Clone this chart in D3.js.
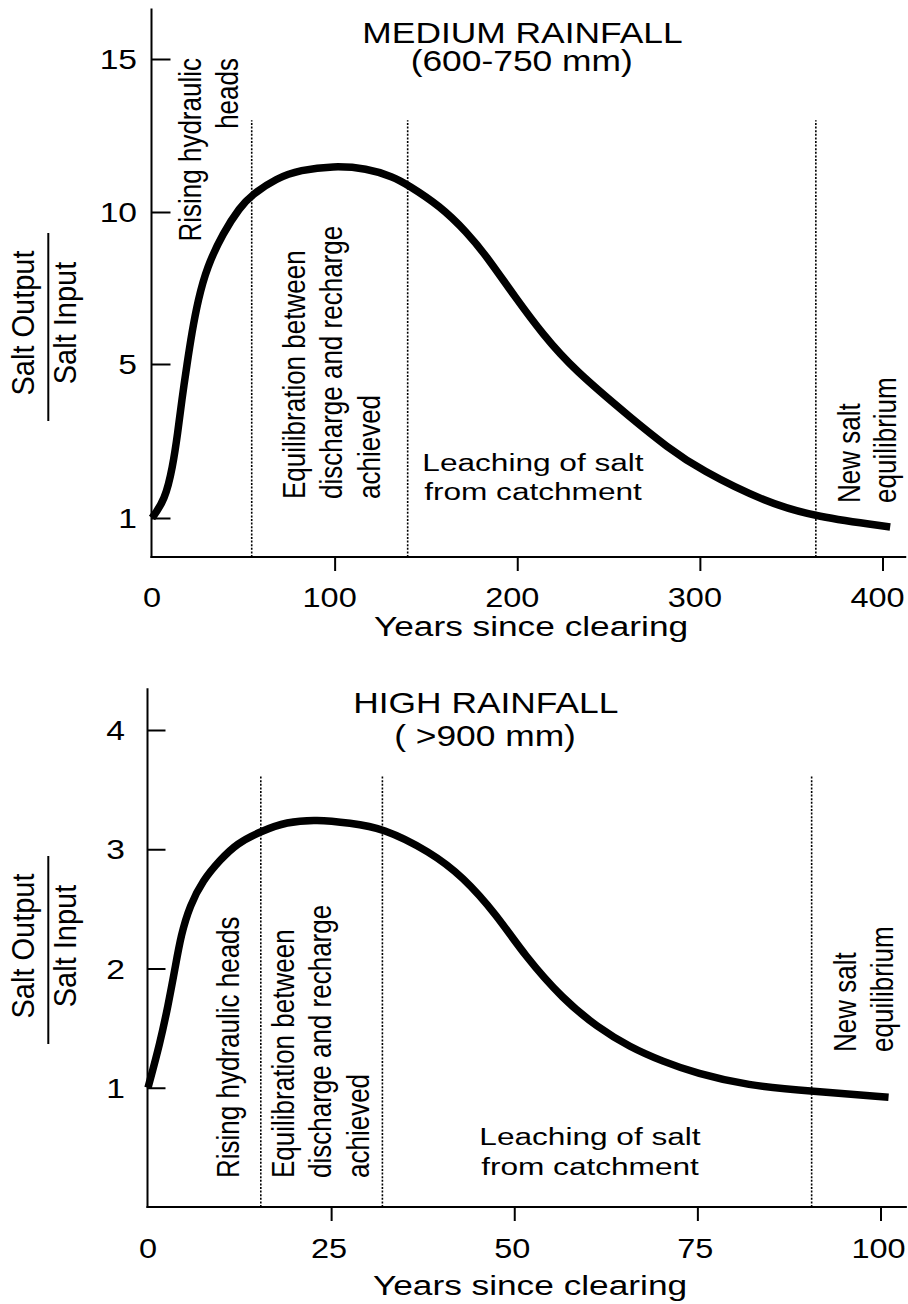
<!DOCTYPE html>
<html>
<head>
<meta charset="utf-8">
<script src="https://cdn.jsdelivr.net/npm/d3@7"></script>
<style>
  body { margin: 0; background: #fff; }
  svg { display: block; }
  text { font-family: "Liberation Sans", Arial, Helvetica, sans-serif; fill: #000; }
</style>
</head>
<body>
<svg id="chart" width="908" height="1304"></svg>
<script>
// ---------------- DATA ----------------
// Medium rainfall panel
const mediumYears = [0, 7.1, 11.3, 14.1, 16.3, 19.2, 21.8, 25.2, 30.0, 38.9, 48.2, 54.6, 68.3, 81.1, 99.2, 117.6, 132, 140, 157.7, 172.5, 183.3, 198.8, 214.3, 230.6, 263.5, 281.9, 300.2, 336.9, 363.7, 404.2];
const mediumRatio = [1.0, 1.47, 2.32, 3.21, 4.06, 5.0, 6.02, 7.1, 8.18, 9.31, 10.16, 10.56, 11.11, 11.37, 11.51, 11.43, 11.15, 10.89, 10.2, 9.33, 8.54, 7.2, 5.95, 4.87, 3.55, 2.85, 2.25, 1.39, 1.03, 0.77];
const mediumXTicks = [0, 100, 200, 300, 400];
const mediumYTicks = [1, 5, 10, 15];
const mediumPhaseBounds = [54.6, 140, 363.5];
const mediumTitle = ["MEDIUM RAINFALL", "(600-750 mm)"];

// High rainfall panel
const highYears = [0, 1.64, 2.73, 3.69, 4.5, 5.73, 7.5, 9.83, 12.15, 15.4, 18.9, 23.0, 27.6, 32.0, 38.5, 43.0, 47.6, 51.4, 56.7, 61.3, 65.8, 70.3, 74.9, 81.7, 90.6, 101.1];
const highRatio = [1.0, 1.375, 1.686, 2.0, 2.28, 2.53, 2.74, 2.91, 3.05, 3.15, 3.23, 3.25, 3.22, 3.18, 2.98, 2.77, 2.45, 2.11, 1.74, 1.51, 1.34, 1.22, 1.12, 1.02, 0.97, 0.92];
const highXTicks = [0, 25, 50, 75, 100];
const highYTicks = [1, 2, 3, 4];
const highPhaseBounds = [15.4, 32.0, 90.6];
const highTitle = ["HIGH RAINFALL", "( >900 mm)"];

const xAxisTitle = "Years since clearing";
const yAxisNumerator = "Salt Output";
const yAxisDenominator = "Salt Input";

const mediumPhaseLabels = {
  rising: ["Rising hydraulic", "heads"],
  equil: ["Equilibration between", "discharge and recharge", "achieved"],
  leach: ["Leaching of salt", "from catchment"],
  newEq: ["New salt", "equilibrium"]
};
const highPhaseLabels = {
  rising: ["Rising hydraulic heads"],
  equil: ["Equilibration between", "discharge and recharge", "achieved"],
  leach: ["Leaching of salt", "from catchment"],
  newEq: ["New salt", "equilibrium"]
};

// ---------------- DRAWING ----------------
const svg = d3.select("#chart");

function hText(g, str, x, y, size, sx, anchor) {
  g.append("text")
    .attr("transform", `translate(${x},${y}) scale(${sx},1)`)
    .attr("text-anchor", anchor)
    .style("font-size", size + "px")
    .text(str);
}
function vText(g, str, x, y, size, sx, anchor) {
  g.append("text")
    .attr("transform", `translate(${x},${y}) scale(${sx},1) rotate(-90)`)
    .attr("text-anchor", anchor)
    .style("font-size", size + "px")
    .text(str);
}

function panel(cfg) {
  const g = svg.append("g");
  const x = d3.scaleLinear().domain(cfg.xDomain).range(cfg.xRange);
  const y = d3.scaleLinear().domain(cfg.yDomain).range(cfg.yRange);
  const x0 = x(0) - 0.5;
  const base = y(0);

  // axis lines
  g.append("line").attr("x1", x0).attr("x2", x0).attr("y1", base + 1).attr("y2", y(cfg.yMax))
    .attr("stroke", "#000").attr("stroke-width", 2);
  g.append("line").attr("x1", x0 - 1).attr("x2", x(cfg.xMax)).attr("y1", base).attr("y2", base)
    .attr("stroke", "#000").attr("stroke-width", 2);

  // x ticks
  const xa = g.append("g").attr("transform", `translate(0,${base})`)
    .call(d3.axisBottom(x).tickValues(cfg.xTicks.filter(d => d !== 0)).tickSize(14).tickSizeOuter(0).tickFormat(""));
  xa.select(".domain").remove();
  xa.selectAll("line").attr("stroke-width", 2);
  // y ticks (inside)
  const ya = g.append("g").attr("transform", `translate(${x0},0)`)
    .call(d3.axisRight(y).tickValues(cfg.yTicks).tickSize(cfg.yTickLen).tickSizeOuter(0).tickFormat(""));
  ya.select(".domain").remove();
  ya.selectAll("line").attr("stroke-width", 2);

  // tick labels
  cfg.xTicks.forEach(v => hText(g, String(v), x(v) + (v === 0 ? 0 : cfg.xLabelShift), cfg.xLabelBase, 28, 1.16, "middle"));
  cfg.yTicks.forEach(v => hText(g, String(v), cfg.yLabelRight, y(v) + 10, 28, 1.2, "end"));

  // phase boundaries (dotted)
  g.selectAll(".phase").data(cfg.bounds).enter().append("line")
    .attr("x1", d => x(d)).attr("x2", d => x(d))
    .attr("y1", base).attr("y2", y(cfg.boundTop))
    .attr("stroke", "#000").attr("stroke-width", 1.6).attr("stroke-dasharray", "2,1.6");

  // curve
  const pts = cfg.years.map((d, i) => [d, cfg.ratio[i]]);
  const line = d3.line().x(d => x(d[0])).y(d => y(d[1])).curve(d3.curveBasis);
  g.append("path").attr("d", line(pts)).attr("fill", "none")
    .attr("stroke", "#000").attr("stroke-width", 7.5).attr("stroke-linecap", "butt")
    .attr("stroke-linejoin", "round");

  // titles
  hText(g, cfg.title[0], cfg.titleX[0], cfg.titleBase[0], 29, 1.22, "middle");
  hText(g, cfg.title[1], cfg.titleX[1], cfg.titleBase[1], 29, 1.22, "middle");

  // x axis title
  hText(g, xAxisTitle, cfg.xTitleX, cfg.xTitleBase, 28, 1.26, "middle");

  // y axis title as fraction
  vText(g, yAxisNumerator, 33.5, cfg.yTitleCenter, 29, 1.05, "middle");
  vText(g, yAxisDenominator, 76, cfg.yTitleCenter, 29, 1.05, "middle");
  g.append("line").attr("x1", 48.3).attr("x2", 48.3)
    .attr("y1", cfg.barRange[0]).attr("y2", cfg.barRange[1])
    .attr("stroke", "#000").attr("stroke-width", 2);

  // annotations
  cfg.annotations.forEach(a => {
    a.lines.forEach((s, i) => {
      if (a.rot) vText(g, s, a.bx[i], a.y, 26, 1.22, a.anchor);
      else hText(g, s, a.x, a.by[i], 24.5, 1.29, "middle");
    });
  });
}

panel({
  xDomain: [0, 400], xRange: [152, 882.5], xMax: 413,
  yDomain: [0, 1, 5, 10, 15], yRange: [557, 518, 364, 212, 59], yMax: 16.65,
  xTicks: mediumXTicks, yTicks: mediumYTicks, yTickLen: 19,
  xLabelBase: 607, xLabelShift: -5, yLabelRight: 137,
  bounds: mediumPhaseBounds, boundTop: 13.0,
  years: mediumYears, ratio: mediumRatio,
  title: mediumTitle, titleX: [522.5, 521.7], titleBase: [42.7, 71],
  xTitleX: 531, xTitleBase: 636,
  yTitleCenter: 323, barRange: [233, 421],
  annotations: [
    { rot: true, lines: mediumPhaseLabels.rising, bx: [201, 238], y: 58, anchor: "end" },
    { rot: true, lines: mediumPhaseLabels.equil, bx: [305, 342, 380], y: 499, anchor: "start" },
    { rot: false, lines: mediumPhaseLabels.leach, x: 533, by: [470.7, 500] },
    { rot: true, lines: mediumPhaseLabels.newEq, bx: [860, 896], y: 503, anchor: "start" }
  ]
});

panel({
  xDomain: [0, 100], xRange: [148, 880.5], xMax: 103.6,
  yDomain: [0, 4], yRange: [1207, 730], yMax: 4.35,
  xTicks: highXTicks, yTicks: highYTicks, yTickLen: 18,
  xLabelBase: 1258.3, xLabelShift: -2, yLabelRight: 125,
  bounds: highPhaseBounds, boundTop: 3.62,
  years: highYears, ratio: highRatio,
  title: highTitle, titleX: [485.8, 485], titleBase: [712.5, 746],
  xTitleX: 530, xTitleBase: 1295,
  yTitleCenter: 946, barRange: [856, 1044],
  annotations: [
    { rot: true, lines: highPhaseLabels.rising, bx: [239], y: 1178, anchor: "start" },
    { rot: true, lines: highPhaseLabels.equil, bx: [294, 331, 369], y: 1178, anchor: "start" },
    { rot: false, lines: highPhaseLabels.leach, x: 590, by: [1145, 1175] },
    { rot: true, lines: highPhaseLabels.newEq, bx: [856, 893], y: 1052, anchor: "start" }
  ]
});
</script>
</body>
</html>
